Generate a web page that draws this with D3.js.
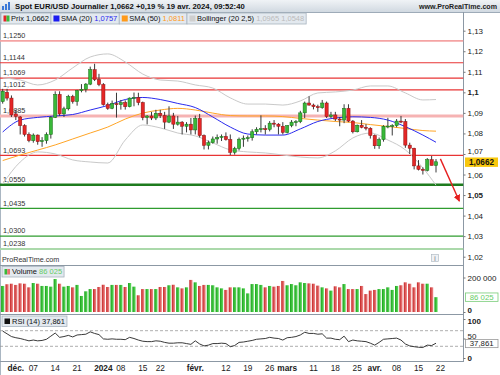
<!DOCTYPE html>
<html>
<head>
<meta charset="utf-8">
<script src="https://cdn.jsdelivr.net/npm/d3@7"></script>
<style>
  body { margin: 0; background: #fff; }
  svg { display: block; }
</style>
</head>
<body>
<svg id="chart" width="500" height="375"></svg>
<script>
// ---- data (EUR/USD daily) ----
// trading days run from 2023-11-28, these days have no candle
const closedDays = ['2023-12-25', '2024-01-01', '2024-01-15', '2024-03-29'];

const opens = [1.0955,1.1000,1.0972,1.0895,1.0880,1.0838,1.0795,1.0765,1.0792,1.0760,
  1.0765,1.0795,1.0878,1.0990,1.0895,1.0920,1.0980,1.0955,1.1008,1.1015,
  1.1040,1.1110,1.1062,1.1038,1.0940,1.0922,1.0945,1.0940,1.0950,1.0930,
  1.0972,1.0975,1.0950,1.0877,1.0885,1.0875,1.0898,1.0887,1.0855,1.0885,
  1.0845,1.0855,1.0835,1.0845,1.0817,1.0873,1.0790,1.0742,1.0755,1.0773,
  1.0780,1.0785,1.0770,1.0708,1.0727,1.0772,1.0777,1.0779,1.0808,1.0820,
  1.0823,1.0820,1.0850,1.0845,1.0835,1.0805,1.0838,1.0855,1.0857,1.0900,
  1.0948,1.0938,1.0930,1.0925,1.0948,1.0882,1.0890,1.0870,1.0865,1.0922,
  1.0860,1.0808,1.0840,1.0830,1.0825,1.0790,1.0740,1.0770,1.0835,1.0836,
  1.0838,1.0860,1.0858,1.0743,1.0728,1.0642,1.0625,1.0620,1.0672,1.0644];
const highs = [1.1017,1.1017,1.0985,1.0915,1.0885,1.0845,1.0805,1.0800,1.0795,1.0782,
  1.0805,1.0885,1.1005,1.1005,1.0930,1.0988,1.0988,1.1012,1.1040,1.1045,
  1.1125,1.1139,1.1090,1.1045,1.0950,1.0960,1.0998,1.0963,1.0961,1.0975,
  1.0999,1.0998,1.0955,1.0889,1.0905,1.0915,1.0915,1.0905,1.0932,1.0900,
  1.0885,1.0860,1.0855,1.0875,1.0887,1.0895,1.0795,1.0765,1.0785,1.0795,
  1.0795,1.0805,1.0795,1.0735,1.0780,1.0790,1.0790,1.0820,1.0830,1.0888,
  1.0840,1.0860,1.0865,1.0850,1.0855,1.0840,1.0865,1.0865,1.0910,1.0955,
  1.0981,1.0945,1.0940,1.0963,1.0955,1.0905,1.0905,1.0880,1.0942,1.0942,
  1.0865,1.0843,1.0865,1.0845,1.0830,1.0795,1.0780,1.0840,1.0876,1.0845,
  1.0870,1.0885,1.0870,1.0755,1.0730,1.0670,1.0635,1.0680,1.0690,1.0675];
const lows = [1.0945,1.0960,1.0880,1.0865,1.0795,1.0785,1.0757,1.0755,1.0745,1.0735,
  1.0750,1.0775,1.0875,1.0885,1.0880,1.0912,1.0945,1.0935,1.1000,1.1000,
  1.1035,1.1055,1.1030,1.0935,1.0915,1.0918,1.0877,1.0916,1.0916,1.0927,
  1.0932,1.0937,1.0864,1.0844,1.0865,1.0865,1.0875,1.0822,1.0850,1.0822,
  1.0838,1.0795,1.0805,1.0795,1.0795,1.0780,1.0722,1.0722,1.0750,1.0750,
  1.0763,1.0765,1.0695,1.0697,1.0717,1.0735,1.0760,1.0765,1.0795,1.0805,
  1.0795,1.0810,1.0830,1.0795,1.0795,1.0800,1.0830,1.0835,1.0850,1.0875,
  1.0935,1.0917,1.0905,1.0920,1.0875,1.0875,1.0860,1.0835,1.0850,1.0855,
  1.0800,1.0805,1.0825,1.0815,1.0775,1.0725,1.0725,1.0760,1.0825,1.0790,
  1.0830,1.0850,1.0730,1.0700,1.0625,1.0620,1.0600,1.0615,1.0645,1.0610];
const closes = [1.1005,1.0972,1.0890,1.0883,1.0838,1.0795,1.0765,1.0792,1.0760,1.0765,
  1.0795,1.0878,1.0990,1.0895,1.0920,1.0980,1.0955,1.1008,1.1015,1.1040,
  1.1110,1.1062,1.1038,1.0940,1.0922,1.0945,1.0940,1.0950,1.0930,1.0972,
  1.0975,1.0950,1.0877,1.0885,1.0875,1.0898,1.0887,1.0855,1.0885,1.0845,
  1.0855,1.0835,1.0845,1.0817,1.0873,1.0790,1.0742,1.0755,1.0773,1.0780,
  1.0785,1.0770,1.0708,1.0727,1.0772,1.0777,1.0779,1.0808,1.0820,1.0823,
  1.0820,1.0850,1.0845,1.0835,1.0805,1.0838,1.0855,1.0857,1.0900,1.0948,
  1.0938,1.0930,1.0925,1.0948,1.0882,1.0890,1.0870,1.0865,1.0922,1.0860,
  1.0808,1.0840,1.0830,1.0825,1.0790,1.0740,1.0770,1.0835,1.0836,1.0838,
  1.0860,1.0858,1.0743,1.0728,1.0642,1.0625,1.0620,1.0672,1.0644,1.0662];

// volume, thousands
const volumes = [151,161,164,157,166,164,143,168,164,151,151,147,191,164,147,151,143,157,93,120,
  133,133,145,158,145,157,157,157,145,168,147,97,133,133,133,133,145,145,155,158,
  143,137,143,186,172,151,157,157,155,143,137,128,143,143,143,137,108,162,162,157,
  143,151,147,151,180,155,162,155,172,168,166,164,153,143,137,124,149,143,162,133,
  133,133,151,104,124,128,133,133,143,128,151,155,172,164,143,172,164,164,143,86.025];

const rsi = [69,62,55,52,50,47,44,46,44,45,48,56,64,53,55,58,54,59,60,61,
  67,63,60,49,48,49,48,48,47,53,50,46,43,42,42,44,43,40,38,38,
  39,39,37,35,44,36,31,33,37,37,38,37,29,32,40,41,43,45,48,49,
  50,53,51,50,46,52,53,55,59,66,63,63,61,62,51,51,48,47,56,42,
  46,44,43,42,38,33,40,48,49,50,51,46,36,31,29,27.5,27,33,32,37.861];

// indicator lines, read at every 4th candle
const lineIdx = [0,4,8,12,16,20,24,28,32,36,40,44,48,52,56,60,64,68,72,76,80,84,88,92,96,99];
const sma20 = [1.0807,1.0865,1.0878,1.0885,1.0892,1.0914,1.0936,1.0965,1.0975,1.0965,1.0946,1.0926,1.0880,
  1.0831,1.0797,1.0792,1.0792,1.0822,1.0858,1.0875,1.0881,1.0878,1.0865,1.0833,1.0792,1.0757];
const sma50 = [1.0668,1.0695,1.0719,1.0744,1.0773,1.0802,1.0831,1.0870,1.0899,1.0914,1.0922,1.0914,1.0899,
  1.0887,1.0885,1.0885,1.0882,1.0873,1.0865,1.0858,1.0853,1.0843,1.0834,1.0824,1.0814,1.0811];
const bbUpper = [1.1070,1.1060,1.1036,1.1060,1.1119,1.1172,1.1187,1.1148,1.1089,1.1060,1.1055,1.1036,1.1021,
  1.0973,1.0943,1.0943,1.0938,1.0958,1.0997,1.1002,1.1011,1.1031,1.1031,1.0997,1.0963,1.0965];
const bbLower = [1.0554,1.0661,1.0710,1.0700,1.0671,1.0661,1.0656,1.0768,1.0841,1.0827,1.0802,1.0788,1.0754,
  1.0720,1.0710,1.0705,1.0695,1.0685,1.0681,1.0715,1.0778,1.0802,1.0768,1.0720,1.0632,1.0548];

// horizontal support / resistance levels
const levels = [1.1250, 1.1144, 1.1069, 1.1012, 1.0885, 1.0693, 1.0550, 1.0435, 1.0300, 1.0238];
const levelStyle = [['#f4a3a3',1.8],['#e83434',1.2],['#e83434',1.2],['#e83434',1.2],['#f6b3b3',3],
  ['#e83434',1.2],['#1e7b1e',2.6],['#2f9c2f',1.3],['#2f9c2f',1.3],['#abd9ab',2]];

const priceTicks = [1.02,1.03,1.04,1.05,1.06,1.07,1.08,1.09,1.1,1.11,1.12,1.13];
const dateTicks = ['2023-12-01','2023-12-07','2023-12-14','2023-12-21','2024-01-02','2024-01-08','2024-01-16',
  '2024-01-22','2024-02-01','2024-02-12','2024-02-19','2024-02-26','2024-03-01','2024-03-11','2024-03-18',
  '2024-03-25','2024-04-01','2024-04-08','2024-04-15','2024-04-22'];
const dateLabels = ['déc.','07','14','21','2024','08','15','22','févr.','12','19','26','mars','11','18','25','avr.','08','15','22'];
const boldLabels = ['déc.','2024','févr.','mars','avr.'];

// arrow drawn by hand on the chart: [day, price]
const arrowFrom = ['2024-04-22', 1.0676];
const arrowTo = ['2024-04-26', 1.0470];

// ---- drawing ----
const fr = d3.formatLocale({decimal: ',', thousands: ' ', grouping: [3], currency: ['', '']});
const f4 = fr.format('.4f');
const svg = d3.select('#chart').attr('font-family', "'Liberation Sans', Arial, sans-serif");
const axisX = 463.5;

const days = d3.utcDay.range(new Date('2023-11-28'), new Date('2024-04-27'))
  .filter(d => d.getUTCDay() !== 0 && d.getUTCDay() !== 6)
  .map(d3.utcFormat('%Y-%m-%d'))
  .filter(d => !closedDays.includes(d));

const x = d3.scaleBand().domain(days).range([0.5, 0.5 + 4.377 * days.length]);
const cx = d => x(d) + x.bandwidth() / 2;
const yP = d3.scaleLinear().domain([1.02, 1.13]).range([256.7, 30.7]);
const yV = d3.scaleLinear().domain([0, 200]).range([312, 277.5]);
const yR = d3.scaleLinear().domain([0, 100]).range([358, 319]);

const candles = opens.map((o, i) => ({day: days[i], o, h: highs[i], l: lows[i], c: closes[i], v: volumes[i], r: rsi[i]}));

const defs = svg.append('defs');
function hGrad(id, c0, c1) {
  const g = defs.append('linearGradient').attr('id', id).attr('x1', 0).attr('x2', 1).attr('y1', 0).attr('y2', 0);
  g.append('stop').attr('offset', 0).attr('stop-color', c0);
  g.append('stop').attr('offset', 1).attr('stop-color', c1);
}
hGrad('volUp', '#17a017', '#62de62');
hGrad('volDown', '#c42222', '#f29090');
const hdr = defs.append('linearGradient').attr('id', 'hdr').attr('x1', 0).attr('x2', 0).attr('y1', 0).attr('y2', 1);
hdr.append('stop').attr('offset', 0).attr('stop-color', '#f0f3f6');
hdr.append('stop').attr('offset', 1).attr('stop-color', '#d1d9e1');
defs.append('clipPath').attr('id', 'plotClip').append('rect').attr('x', 0).attr('y', 13).attr('width', axisX).attr('height', 252);
defs.append('marker').attr('id', 'arrowHead').attr('viewBox', '0 0 10 10').attr('refX', 9).attr('refY', 5)
  .attr('markerWidth', 5).attr('markerHeight', 5).attr('orient', 'auto')
  .append('path').attr('d', 'M0,0L10,5L0,10Z').attr('fill', '#e62020');

svg.append('rect').attr('width', 500).attr('height', 375).attr('fill', '#fff');

// header strip
svg.append('rect').attr('width', 500).attr('height', 12).attr('fill', 'url(#hdr)');
svg.append('line').attr('x1', 0).attr('x2', 500).attr('y1', 12.5).attr('y2', 12.5).attr('stroke', '#9eabb8');
[[2, 6], [5, 4], [8, 2]].forEach(([bx, by]) => {
  svg.append('rect').attr('x', bx).attr('y', by).attr('width', 2).attr('height', 10 - by).attr('fill', '#3a78d8');
});
svg.append('text').attr('x', 15).attr('y', 9).attr('font-size', 7.7).attr('font-weight', 'bold').attr('fill', '#111')
  .text(`Spot EUR/USD Journalier ${f4(closes[closes.length - 1])} +0,19 % 19 avr. 2024, 09:52:40`);
svg.append('text').attr('x', 497).attr('y', 9).attr('text-anchor', 'end').attr('font-size', 7.1)
  .attr('font-weight', 'bold').attr('fill', '#222').text('www.ProRealTime.com');

// panel frames
svg.append('line').attr('x1', 0.5).attr('x2', 0.5).attr('y1', 12).attr('y2', 375).attr('stroke', '#aab6c2');
svg.append('line').attr('x1', axisX).attr('x2', axisX).attr('y1', 12).attr('y2', 362).attr('stroke', '#8c98a4');
[265.5, 314.5, 361.5].forEach(yy => {
  svg.append('line').attr('x1', 0).attr('x2', axisX).attr('y1', yy).attr('y2', yy).attr('stroke', '#8c98a4');
});

// price panel
const plot = svg.append('g').attr('clip-path', 'url(#plotClip)');
levels.forEach((v, i) => {
  plot.append('line').attr('x1', 0).attr('x2', axisX).attr('y1', yP(v)).attr('y2', yP(v))
    .attr('stroke', levelStyle[i][0]).attr('stroke-width', levelStyle[i][1]);
  plot.append('text').attr('x', 3).attr('y', yP(v) - 2.8).attr('font-size', 7.3).attr('fill', '#333').text(f4(v));
});

const pts = arr => lineIdx.map((k, j) => [cx(days[k]), yP(arr[j])]);
const lineGen = d3.line().curve(d3.curveMonotoneX);
[[bbUpper, '#c9c9c9'], [bbLower, '#c9c9c9'], [sma50, '#ffa526'], [sma20, '#2a2aee']].forEach(([arr, col]) => {
  plot.append('path').attr('d', lineGen(pts(arr))).attr('fill', 'none').attr('stroke', col).attr('stroke-width', 1);
});

const cg = plot.append('g');
cg.selectAll('line').data(candles).join('line')
  .attr('x1', d => cx(d.day)).attr('x2', d => cx(d.day))
  .attr('y1', d => yP(d.h)).attr('y2', d => yP(d.l))
  .attr('stroke', '#3a3a3a').attr('stroke-width', 1);
cg.selectAll('rect').data(candles).join('rect')
  .attr('x', d => cx(d.day) - 1.6).attr('width', 3.2)
  .attr('y', d => yP(Math.max(d.o, d.c)))
  .attr('height', d => Math.max(1, Math.abs(yP(d.o) - yP(d.c))))
  .attr('fill', d => d.c >= d.o ? '#39b839' : '#e42626')
  .attr('stroke', d => d.c >= d.o ? '#146c14' : '#8c1010').attr('stroke-width', 0.5);

plot.append('line')
  .attr('x1', cx(arrowFrom[0])).attr('y1', yP(arrowFrom[1]))
  .attr('x2', cx(arrowTo[0]) + 1.5).attr('y2', yP(arrowTo[1]))
  .attr('stroke', '#e62020').attr('stroke-width', 1.4).attr('marker-end', 'url(#arrowHead)');

// legend row
function legendBox(x0, y0, h, swatch, parts) {
  const g = svg.append('g');
  const r = g.append('rect').attr('x', x0).attr('y', y0).attr('height', h)
    .attr('fill', '#e3e9ef').attr('stroke', '#a7b3bf').attr('stroke-width', 0.8);
  swatch(g, x0 + 2.5, y0 + 2.5, h - 5);
  const t = g.append('text').attr('x', x0 + 10).attr('y', y0 + h - 3).attr('font-size', 7.5);
  parts.forEach(([s, col]) => t.append('tspan').attr('fill', col).text(s));
  const w = t.node().getComputedTextLength();
  r.attr('width', w + 12);
  return x0 + w + 12;
}
const solid = col => (g, sx, sy, s) => g.append('rect').attr('x', sx).attr('y', sy).attr('width', s).attr('height', s).attr('fill', col);
const twoTone = (a, b) => (g, sx, sy, s) => {
  g.append('rect').attr('x', sx).attr('y', sy).attr('width', s / 2).attr('height', s).attr('fill', a);
  g.append('rect').attr('x', sx + s / 2).attr('y', sy).attr('width', s / 2).attr('height', s).attr('fill', b);
};
let lx = 1;
lx = legendBox(lx, 13, 11, twoTone('#e42626', '#39b839'), [['Prix ', '#111'], [f4(closes[closes.length - 1]), '#111']]);
lx = legendBox(lx, 13, 11, solid('#1c1cf0'), [['SMA (20) ', '#111'], [f4(sma20[sma20.length - 1]), '#2a2aee']]);
lx = legendBox(lx, 13, 11, solid('#ff9a1a'), [['SMA (50) ', '#111'], [f4(sma50[sma50.length - 1]), '#ff9a1a']]);
legendBox(lx, 13, 11, solid('#cfcfcf'), [['Bollinger (20 2,5) ', '#111'],
  [f4(bbUpper[bbUpper.length - 1]) + ' ' + f4(bbLower[bbLower.length - 1]), '#bbbbbb']]);

// price axis
const pAxis = svg.append('g').attr('transform', `translate(${axisX},0)`)
  .call(d3.axisRight(yP).tickValues(priceTicks).tickSize(2).tickPadding(2).tickFormat(fr.format('~g')));
pAxis.select('.domain').remove();
pAxis.selectAll('line').attr('stroke', '#777');
pAxis.selectAll('text').attr('font-family', null).attr('font-size', 8).attr('fill', '#222')
  .attr('dy', d => d === 1.07 ? '-0.05em' : '0.32em')
  .attr('font-weight', d => Math.round(d * 100) % 5 === 0 ? 'bold' : 'normal');

const last = candles[candles.length - 1];
svg.append('rect').attr('x', 465).attr('y', yP(last.c) - 4.3).attr('width', 33).attr('height', 9.4)
  .attr('fill', '#f8c70c');
svg.append('text').attr('x', 481.5).attr('y', yP(last.c) + 3.2).attr('text-anchor', 'middle')
  .attr('font-size', 8.2).attr('font-weight', 'bold').attr('fill', '#111').text(f4(last.c));

// footer of price panel
svg.append('text').attr('x', 2).attr('y', 261.5).attr('font-size', 7.2).attr('fill', '#333').text('ProRealTime.com');
svg.append('rect').attr('x', 431.5).attr('y', 254.5).attr('width', 7).attr('height', 7)
  .attr('fill', '#eef1f4').attr('stroke', '#a9b3bd').attr('stroke-width', 0.6);
svg.append('text').attr('x', 435).attr('y', 260.5).attr('text-anchor', 'middle').attr('font-size', 6.5)
  .attr('fill', '#667').text('i');

// volume panel
svg.append('g').selectAll('rect').data(candles).join('rect')
  .attr('x', d => cx(d.day) - 1.6).attr('width', 3.2)
  .attr('y', d => yV(d.v)).attr('height', d => yV(0) - yV(d.v))
  .attr('fill', d => d.c >= d.o ? 'url(#volUp)' : 'url(#volDown)');
legendBox(2, 266.5, 10.5, twoTone('#39b839', '#e87070'), [['Volume ', '#111'], [fr.format(',d')(Math.round(last.v * 1000)), '#66cc66']]);
const vAxis = svg.append('g').attr('transform', `translate(${axisX},0)`)
  .call(d3.axisRight(yV).tickValues([0, 200]).tickSize(2).tickPadding(2).tickFormat(v => fr.format(',d')(v * 1000)));
vAxis.select('.domain').remove();
vAxis.selectAll('line').attr('stroke', '#777');
vAxis.selectAll('text').attr('font-family', null).attr('font-size', 8).attr('fill', '#222')
  .attr('dy', d => d === 0 ? '0.05em' : '0.32em')
  .attr('font-weight', d => d === 0 ? 'bold' : 'normal');
svg.append('rect').attr('x', 465.5).attr('y', yV(last.v) - 4.2).attr('width', 32.5).attr('height', 8.4)
  .attr('fill', '#fff').attr('stroke', '#77cc77').attr('stroke-width', 0.8);
svg.append('text').attr('x', 481.7).attr('y', yV(last.v) + 2.8).attr('text-anchor', 'middle')
  .attr('font-size', 7.8).attr('fill', '#66cc66').text(fr.format(',d')(Math.round(last.v * 1000)));

// RSI panel
[70, 30].forEach(v => {
  svg.append('line').attr('x1', 0).attr('x2', axisX).attr('y1', yR(v)).attr('y2', yR(v))
    .attr('stroke', '#999').attr('stroke-width', 0.8).attr('stroke-dasharray', '3,2');
});
svg.append('path').datum(candles)
  .attr('d', d3.line().x(d => cx(d.day)).y(d => yR(d.r)))
  .attr('fill', 'none').attr('stroke', '#222').attr('stroke-width', 0.9);
legendBox(2, 316, 10.5, solid('#111'), [['RSI (14) ', '#111'], [fr.format('.3f')(last.r), '#111']]);
const rAxis = svg.append('g').attr('transform', `translate(${axisX},0)`)
  .call(d3.axisRight(yR).tickValues([0, 50, 100]).tickSize(2).tickPadding(2));
rAxis.select('.domain').remove();
rAxis.selectAll('line').attr('stroke', '#777');
rAxis.selectAll('text').attr('font-family', null).attr('font-size', 8).attr('fill', '#222')
  .attr('dy', d => d === 100 ? '0.55em' : d === 50 ? '-0.05em' : '0.32em')
  .attr('font-weight', d => d === 50 ? 'normal' : 'bold');
svg.append('rect').attr('x', 465.5).attr('y', yR(last.r) - 3.8).attr('width', 32.5).attr('height', 8.2)
  .attr('fill', '#fff').attr('stroke', '#999').attr('stroke-width', 0.8);
svg.append('text').attr('x', 481.7).attr('y', yR(last.r) + 3.1).attr('text-anchor', 'middle')
  .attr('font-size', 7.8).attr('fill', '#222').text(fr.format('.3f')(last.r));

// date axis
const xAxis = svg.append('g').attr('transform', 'translate(0,362)')
  .call(d3.axisBottom(x).tickValues(dateTicks).tickSize(0).tickPadding(3).tickFormat((d, i) => dateLabels[i]));
xAxis.select('.domain').remove();
xAxis.selectAll('text').attr('font-family', null).attr('font-size', 8.3).attr('fill', '#222')
  .attr('font-weight', (d, i) => boldLabels.includes(dateLabels[i]) ? 'bold' : 'normal');
</script>
</body>
</html>
